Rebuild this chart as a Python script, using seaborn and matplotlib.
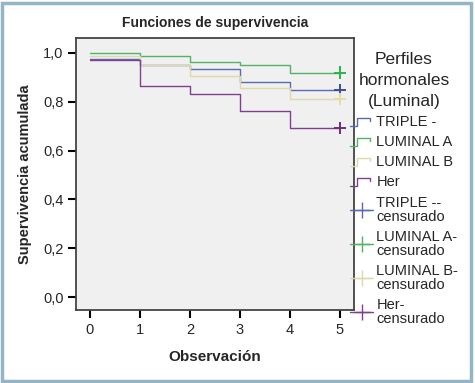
import numpy as np
import pandas as pd
import seaborn as sns
import matplotlib
matplotlib.use("Agg")
import matplotlib.pyplot as plt
from matplotlib.lines import Line2D
from matplotlib.legend_handler import HandlerBase
from matplotlib.patches import Rectangle

# ---- data ----
tiempos = [0, 1, 2, 3, 4, 5]
grupos = ["TRIPLE -", "LUMINAL A", "LUMINAL B", "Her"]
surv_triple = [0.975, 0.951, 0.936, 0.882, 0.848, 0.848]
surv_lumA = [0.998, 0.986, 0.963, 0.950, 0.919, 0.919]
surv_lumB = [0.988, 0.951, 0.906, 0.857, 0.810, 0.810]
surv_her = [0.972, 0.865, 0.831, 0.762, 0.693, 0.693]
censura_t = [5, 5, 5, 5]
censura_s = [0.848, 0.919, 0.810, 0.693]
yticks = [0.0, 0.2, 0.4, 0.6, 0.8, 1.0]
ytick_labels = ["0,0", "0,2", "0,4", "0,6", "0,8", "1,0"]
xticks = [0, 1, 2, 3, 4, 5]
leyenda_cens = ["TRIPLE --\ncensurado", "LUMINAL A-\ncensurado",
                "LUMINAL B-\ncensurado", "Her-\ncensurado"]

line_colors = ["#5a6aae", "#52b266", "#e0d8aa", "#804090"]
mark_colors = ["#3a4d9e", "#2eb24a", "#e6dc9e", "#6e2c7c"]

df = pd.DataFrame({
    "t": tiempos * 4,
    "s": surv_triple + surv_lumA + surv_lumB + surv_her,
    "g": sum([[g] * len(tiempos) for g in grupos], []),
})
dfc = pd.DataFrame({"t": censura_t, "s": censura_s, "g": grupos})

sns.set_style("ticks")
plt.rcParams["font.family"] = ["Liberation Sans", "DejaVu Sans"]

fig = plt.figure(figsize=(4.75, 3.83), dpi=100)
fig.patch.set_facecolor("white")
ax = fig.add_axes([76/475, 1-310/383, (354-76)/475, (310-38)/383])
ax.set_facecolor("#f0f0f0")

sns.lineplot(data=df, x="t", y="s", hue="g", palette=dict(zip(grupos, line_colors)),
             drawstyle="steps-post", linewidth=1.0, ax=ax, legend=False, estimator=None)
sns.scatterplot(data=dfc, x="t", y="s", hue="g", palette=dict(zip(grupos, mark_colors)),
                marker="+", s=80, linewidth=1.4, ax=ax, legend=False, zorder=5)

ax.set_xlim(-0.28, 5.28)
ax.set_ylim(-0.053, 1.061)
ax.set_xticks(xticks)
ax.set_xticklabels([str(x) for x in xticks], fontsize=10.5)
ax.set_yticks(yticks)
ax.set_yticklabels(ytick_labels, fontsize=10.5)
ax.tick_params(axis="both", direction="out", length=6, width=1.5, color="black", pad=3)
for sp in ax.spines.values():
    sp.set_color("#444444")
    sp.set_linewidth(1.3)
    sp.set_visible(True)

ax.set_xlabel("Observación", fontsize=11, fontweight="bold", labelpad=10)
ax.set_ylabel("Supervivencia acumulada", fontsize=10.5, fontweight="bold", labelpad=8)
ax.set_title("Funciones de supervivencia", fontsize=10, fontweight="bold", pad=8)


class HandlerStep(HandlerBase):
    def create_artists(self, legend, orig_handle, xdescent, ydescent, width, height,
                       fontsize, trans):
        x0 = -xdescent
        y0 = -ydescent
        xs = [x0, x0 + width * 0.3, x0 + width * 0.3, x0 + width * 0.85,
              x0 + width * 0.85]
        ys = [y0 + height * 0.05, y0 + height * 0.05, y0 + height * 0.8,
              y0 + height * 0.8, y0 + height * 0.5]
        ln = Line2D(xs, ys, color=orig_handle.get_color(), linewidth=1.0)
        ln.set_transform(trans)
        return [ln]


handles = [Line2D([], [], color=c) for c in line_colors]
handles += [Line2D([], [], color=c, marker="+", markersize=12, markeredgewidth=1.0,
                   linewidth=1.0) for c in line_colors]
labels = grupos + leyenda_cens
hmap = {h: HandlerStep() for h in handles[:4]}
leg = fig.legend(handles, labels, handler_map=hmap, loc="upper left",
                 bbox_to_anchor=(350/475, 1-52/383), frameon=False,
                 fontsize=10.5, title="Perfiles\nhormonales\n(Luminal)",
                 title_fontsize=12.5, handlelength=1.6, handletextpad=0.2,
                 labelspacing=0.42, borderpad=0, borderaxespad=0)
leg._legend_box.align = "center"
leg.get_title().set_multialignment("center")
leg.get_title().set_linespacing(1.5)
for t in leg.get_texts():
    t.set_linespacing(1.0)

fig.patches.append(Rectangle((2/475, 1-381/383), 469/475, 378/383, transform=fig.transFigure,
                             fill=False, edgecolor="#93b5c5", linewidth=2.5))

fig.savefig("out.png", dpi=100)
